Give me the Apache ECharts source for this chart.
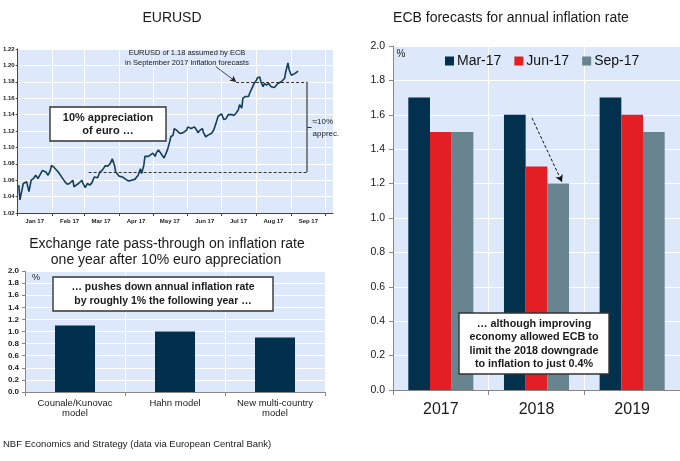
<!DOCTYPE html>
<html>
<head>
<meta charset="utf-8">
<script src="https://cdn.jsdelivr.net/npm/echarts@6/dist/echarts.min.js"></script>
<style>
html, body { margin: 0; padding: 0; background: #fff; }
#chart { width: 680px; height: 461px; }
</style>
</head>
<body>
<div id="chart"></div>
<script>
// EURUSD
var fxDates = [
    '2017-01-02', '2017-01-03', '2017-01-06', '2017-01-09', '2017-01-11', '2017-01-13', '2017-01-15',
    '2017-01-17', '2017-01-19', '2017-01-23', '2017-01-26', '2017-01-28', '2017-01-30', '2017-01-31',
    '2017-02-02', '2017-02-03', '2017-02-06', '2017-02-09', '2017-02-12', '2017-02-14', '2017-02-16',
    '2017-02-19', '2017-02-20', '2017-02-22', '2017-02-24', '2017-02-27', '2017-02-28', '2017-03-02',
    '2017-03-04', '2017-03-06', '2017-03-08', '2017-03-10', '2017-03-13', '2017-03-15', '2017-03-17',
    '2017-03-20', '2017-03-22', '2017-03-24', '2017-03-26', '2017-03-28', '2017-03-29', '2017-04-01',
    '2017-04-04', '2017-04-08', '2017-04-10', '2017-04-12', '2017-04-15', '2017-04-18', '2017-04-20',
    '2017-04-21', '2017-04-23', '2017-04-24', '2017-04-25', '2017-04-27', '2017-04-29', '2017-05-01',
    '2017-05-03', '2017-05-04', '2017-05-06', '2017-05-09', '2017-05-11', '2017-05-12', '2017-05-14',
    '2017-05-16', '2017-05-17', '2017-05-19', '2017-05-20', '2017-05-22', '2017-05-23', '2017-05-25',
    '2017-05-26', '2017-05-28', '2017-05-31', '2017-06-01', '2017-06-04', '2017-06-07', '2017-06-09',
    '2017-06-10', '2017-06-12', '2017-06-14', '2017-06-15', '2017-06-17', '2017-06-19', '2017-06-22',
    '2017-06-23', '2017-06-24', '2017-06-26', '2017-06-28', '2017-06-29', '2017-07-01', '2017-07-03',
    '2017-07-05', '2017-07-07', '2017-07-08', '2017-07-10', '2017-07-12', '2017-07-14', '2017-07-16',
    '2017-07-17', '2017-07-19', '2017-07-20', '2017-07-22', '2017-07-23', '2017-07-25', '2017-07-26',
    '2017-07-28', '2017-07-29', '2017-07-30', '2017-08-01', '2017-08-02', '2017-08-04', '2017-08-05',
    '2017-08-07', '2017-08-08', '2017-08-10', '2017-08-11', '2017-08-12', '2017-08-14', '2017-08-15',
    '2017-08-17', '2017-08-18', '2017-08-20', '2017-08-21', '2017-08-23', '2017-08-24', '2017-08-26',
    '2017-08-27', '2017-08-29', '2017-08-30', '2017-09-01', '2017-09-02', '2017-09-04', '2017-09-05',
    '2017-09-07'
];
var fxValues = [
    1.054, 1.036, 1.056, 1.058, 1.046, 1.060, 1.062,
    1.066, 1.062, 1.072, 1.070, 1.066, 1.072, 1.078,
    1.076, 1.078, 1.070, 1.064, 1.058, 1.055, 1.056,
    1.060, 1.052, 1.054, 1.056, 1.060, 1.056, 1.051,
    1.056, 1.054, 1.057, 1.064, 1.063, 1.070, 1.072,
    1.078, 1.077, 1.080, 1.086, 1.078, 1.070, 1.065,
    1.064, 1.060, 1.059, 1.060, 1.061, 1.066, 1.074,
    1.068, 1.078, 1.089, 1.091, 1.089, 1.091, 1.093,
    1.089, 1.093, 1.097, 1.091, 1.087, 1.089, 1.097,
    1.107, 1.113, 1.115, 1.123, 1.121, 1.119, 1.117,
    1.119, 1.118, 1.121, 1.125, 1.123, 1.125, 1.121,
    1.118, 1.121, 1.123, 1.118, 1.113, 1.115, 1.117,
    1.117, 1.121, 1.129, 1.138, 1.140, 1.141, 1.134,
    1.135, 1.140, 1.138, 1.140, 1.139, 1.142, 1.146,
    1.152, 1.148, 1.160, 1.162, 1.164, 1.162, 1.166,
    1.172, 1.172, 1.178, 1.182, 1.185, 1.186, 1.180,
    1.174, 1.178, 1.176, 1.174, 1.178, 1.174, 1.176,
    1.173, 1.175, 1.178, 1.176, 1.180, 1.182, 1.184,
    1.192, 1.203, 1.195, 1.188, 1.188, 1.190, 1.192,
    1.193
];
var fxMonthLabels = ['Jan 17', 'Feb 17', 'Mar 17', 'Apr 17', 'May 17', 'Jun 17', 'Jul 17', 'Aug 17', 'Sep 17'];

var modelNames = ['Counale/Kunovac\nmodel', 'Hahn model', 'New multi-country\nmodel'];
var passThrough = [1.1, 1.0, 0.9];

var forecastYears = ['2017', '2018', '2019'];
var forecastMar = [1.7, 1.6, 1.7];
var forecastJun = [1.5, 1.3, 1.6];
var forecastSep = [1.5, 1.2, 1.5];

var FONT = 'Liberation Sans, Arial, sans-serif';
var PLOT_BG = '#DDE9FB';
var DAY = 86400000;

var chart = echarts.init(document.getElementById('chart'));

function txt(x, y, text, size, opts) {
    opts = opts || {};
    return {
        type: 'text', x: x, y: y, z: 100,
        style: {
            text: text,
            font: (opts.bold ? 'bold ' : '') + size + 'px ' + FONT,
            fill: opts.color || '#1a1a1a',
            align: opts.align || 'center',
            verticalAlign: 'middle',
            lineHeight: opts.lineHeight || size * 1.2
        }
    };
}

function box(x, y, w, h) {
    return {
        type: 'rect', z: 90,
        shape: { x: x, y: y, width: w, height: h },
        style: { fill: '#fff', stroke: '#333', lineWidth: 1.4 }
    };
}

var option = {
    animation: false,
    backgroundColor: '#fff',
    textStyle: { fontFamily: FONT },
    grid: [
        { left: 17, top: 49, width: 316, height: 164, show: true, backgroundColor: PLOT_BG, borderWidth: 0 },
        { left: 25, top: 271, width: 300, height: 121, show: true, backgroundColor: PLOT_BG, borderWidth: 0 },
        { left: 393, top: 46, width: 293, height: 344, show: true, backgroundColor: PLOT_BG, borderWidth: 0 }
    ],
    legend: {
        data: ['Mar-17', 'Jun-17', 'Sep-17'],
        left: 440, top: 49,
        icon: 'rect', itemWidth: 9, itemHeight: 9, itemGap: 13,
        textStyle: { fontSize: 14, color: '#111', fontFamily: FONT, padding: [0, 0, 0, -2] },
        selectedMode: false
    },
    xAxis: [
        {
            type: 'time', gridIndex: 0,
            min: +new Date(2017, 0, 1), max: +new Date(2017, 9, 8),
            splitNumber: 9, minInterval: 28 * DAY, maxInterval: 31 * DAY,
            axisLine: { lineStyle: { color: '#444', width: 1 } },
            axisTick: { show: true, length: 3, lineStyle: { color: '#444' } },
            splitLine: { show: true, lineStyle: { color: '#fff', width: 1 } },
            axisLabel: {
                align: 'left', margin: 5, showMinLabel: true, showMaxLabel: false,
                formatter: function(v) {
                    var m = new Date(v).getMonth();
                    return m < fxMonthLabels.length ? '{m|' + fxMonthLabels[m] + '}' : '';
                },
                rich: { m: { width: 34, align: 'center', fontSize: 6, fontWeight: 'bold', color: '#222', fontFamily: FONT } }
            }
        },
        {
            type: 'category', gridIndex: 1, data: modelNames,
            axisLine: { lineStyle: { color: '#888' } },
            axisTick: { show: true, length: 4, lineStyle: { color: '#888' } },
            splitLine: { show: true, lineStyle: { color: '#fff', width: 1 } },
            axisLabel: { fontSize: 9.5, color: '#1a1a1a', margin: 6, lineHeight: 10.5, fontFamily: FONT }
        },
        {
            type: 'category', gridIndex: 2, data: forecastYears,
            axisLine: { lineStyle: { color: '#888' } },
            axisTick: { show: true, length: 5, lineStyle: { color: '#888' } },
            splitLine: { show: true, lineStyle: { color: '#fff', width: 1 } },
            axisLabel: { fontSize: 16, color: '#1a1a1a', margin: 12, fontFamily: FONT }
        }
    ],
    yAxis: [
        {
            type: 'value', gridIndex: 0, min: 1.02, max: 1.22, interval: 0.02,
            axisLine: { show: true, lineStyle: { color: '#444' } },
            axisTick: { show: true, length: 2, lineStyle: { color: '#444' } },
            splitLine: { lineStyle: { color: '#fff', width: 1 } },
            axisLabel: {
                fontSize: 6, fontWeight: 'bold', color: '#222', margin: 3, fontFamily: FONT,
                formatter: function(v) { return v.toFixed(2); }
            }
        },
        {
            type: 'value', gridIndex: 1, min: 0, max: 2, interval: 0.2,
            axisLine: { show: true, lineStyle: { color: '#888' } },
            axisTick: { show: true, length: 3, lineStyle: { color: '#888' } },
            splitLine: { lineStyle: { color: '#fff', width: 1 } },
            axisLabel: {
                fontSize: 8, fontWeight: 'bold', color: '#222', margin: 6, fontFamily: FONT,
                formatter: function(v) { return v.toFixed(1); }
            }
        },
        {
            type: 'value', gridIndex: 2, min: 0, max: 2, interval: 0.2,
            axisLine: { show: true, lineStyle: { color: '#888' } },
            axisTick: { show: true, length: 4, lineStyle: { color: '#888' } },
            splitLine: { lineStyle: { color: '#fff', width: 1 } },
            axisLabel: {
                fontSize: 10.5, color: '#1a1a1a', margin: 8, fontFamily: FONT,
                formatter: function(v) { return v.toFixed(1); }
            }
        }
    ],
    series: [
        {
            name: 'EURUSD', type: 'line', xAxisIndex: 0, yAxisIndex: 0,
            data: fxDates.map(function(d, i) { return [d, fxValues[i]]; }),
            showSymbol: false, symbol: 'none',
            lineStyle: { color: '#143D59', width: 1.6 },
            markLine: {
                silent: true, symbol: 'none',
                label: { show: false },
                data: [
                    [{ coord: ['2017-07-14', 1.18], lineStyle: { type: [3, 2], color: '#333', width: 1 } },
                     { coord: ['2017-09-15', 1.18] }],
                    [{ coord: ['2017-03-05', 1.07], lineStyle: { type: [3, 2], color: '#333', width: 1 } },
                     { coord: ['2017-09-15', 1.07] }],
                    [{ coord: ['2017-09-15', 1.18], lineStyle: { type: 'solid', color: '#666', width: 1.6 } },
                     { coord: ['2017-09-15', 1.07] }],
                    [{ coord: ['2017-09-15', 1.1245], lineStyle: { type: 'solid', color: '#333', width: 1 } },
                     { coord: ['2017-09-19', 1.1245],
                       label: { show: true, position: 'end', distance: 1, formatter: '\u224810%\napprec.',
                                fontSize: 8, color: '#1a1a1a', lineHeight: 12, fontFamily: FONT } }],
                    [{ coord: ['2017-06-26', 1.1985], symbol: 'none', lineStyle: { type: 'solid', color: '#222', width: 0.8 } },
                     { coord: ['2017-07-14', 1.18], symbol: 'arrow', symbolSize: [5, 6] }]
                ]
            }
        },
        {
            name: 'Pass-through', type: 'bar', xAxisIndex: 1, yAxisIndex: 1,
            data: passThrough, barWidth: 40,
            itemStyle: { color: '#00304E' }
        },
        {
            name: 'Mar-17', type: 'bar', xAxisIndex: 2, yAxisIndex: 2,
            data: forecastMar, barGap: '0%', barCategoryGap: '32%',
            itemStyle: { color: '#02314E' }
        },
        {
            name: 'Jun-17', type: 'bar', xAxisIndex: 2, yAxisIndex: 2,
            data: forecastJun, barGap: '0%', barCategoryGap: '32%',
            itemStyle: { color: '#E31E25' }
        },
        {
            name: 'Sep-17', type: 'bar', xAxisIndex: 2, yAxisIndex: 2,
            data: forecastSep, barGap: '0%', barCategoryGap: '32%',
            itemStyle: { color: '#67848F' },
            markLine: {
                silent: true, symbol: ['none', 'arrow'], symbolSize: [6, 7],
                label: { show: false },
                lineStyle: { type: [3, 2], color: '#111', width: 1 },
                data: [[{ x: 532, y: 118 }, { x: 562, y: 182 }]]
            }
        }
    ],
    graphic: [
        // titles
        txt(172, 18, 'EURUSD', 14),
        txt(511, 18, 'ECB forecasts for annual inflation rate', 14),
        txt(167, 244, 'Exchange rate pass-through on inflation rate', 14),
        txt(166, 260, 'one year after 10% euro appreciation', 14),
        txt(3, 444, 'NBF Economics and Strategy (data via European Central Bank)', 9.5, { align: 'left' }),
        // EURUSD notes
        txt(187, 58, 'EURUSD of 1.18 assumed by ECB\nin September 2017 inflation forecasts', 7.5, { lineHeight: 9.5 }),
        box(50, 107, 116, 34),
        txt(108, 124.5, '10% appreciation\nof euro \u2026', 11, { bold: true, lineHeight: 12.5 }),
        // pass-through notes
        txt(36, 278, '%', 9),
        box(53, 277, 220, 34),
        txt(163, 294, '\u2026 pushes down annual inflation rate\nby roughly 1% the following year \u2026', 10.5, { bold: true, lineHeight: 13.7 }),
        // forecast notes
        txt(401, 54, '%', 10),
        box(459, 313, 150, 61),
        txt(534, 344, '\u2026 although improving\neconomy allowed ECB to\nlimit the 2018 downgrade\nto inflation to just 0.4%', 10.8, { bold: true, lineHeight: 13.3 })
    ]
};

chart.setOption(option);
</script>
</body>
</html>
